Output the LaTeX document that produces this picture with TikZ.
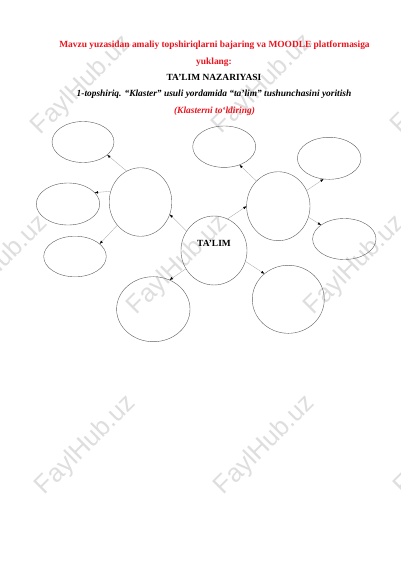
\documentclass[tikz,border=0pt]{standalone}
\usepackage{fontspec}
\setmainfont{Liberation Serif}
\newfontfamily\wmfont{Liberation Sans}
\usetikzlibrary{shapes.geometric,arrows.meta}
\definecolor{titlered}{RGB}{232,20,30}
\definecolor{wmgray}{RGB}{222,222,222}
\definecolor{ringgray}{RGB}{95,95,95}
\definecolor{linkgray}{RGB}{170,170,170}
\begin{document}
\begin{tikzpicture}[x=1.4875pt,y=-1.4875pt,
  bubble/.style={ellipse,draw=ringgray,line width=0.6pt,inner sep=0pt,outer sep=0pt},
  link/.style={draw=linkgray,line width=0.5pt,-{Latex[length=5pt,width=3.8pt,color=black,fill=black]}},
  headline/.style={font=\fontsize{14}{16}\selectfont\bfseries,inner sep=0pt,anchor=base},
  watermark/.style={font=\wmfont\fontsize{38}{40}\selectfont,text=wmgray,rotate=45,inner sep=0pt}]
\useasboundingbox (0,0) rectangle (400,566);
\fill[white] (0,0) rectangle (400,566);
% watermarks
\begin{scope}
\clip (0,0) rectangle (400,566);
\node[watermark] (wm1) at (82,85) {FaylHub.uz};
\node[watermark] (wm2) at (263,84) {FaylHub.uz};
\node[watermark] (wm3) at (442,84) {FaylHub.uz};
\node[watermark] (wm4) at (-2,265) {FaylHub.uz};
\node[watermark] (wm5) at (178,265) {FaylHub.uz};
\node[watermark] (wm6) at (355,265) {FaylHub.uz};
\node[watermark] (wm7) at (86,445) {FaylHub.uz};
\node[watermark] (wm8) at (265,445) {FaylHub.uz};
\node[watermark] (wm9) at (445,445) {FaylHub.uz};
\end{scope}
% heading
\node[headline,text=titlered] (h1) at (214.5,47.5) {Mavzu yuzasidan amaliy topshiriqlarni bajaring va MOODLE platformasiga};
\node[headline,text=titlered] (h2) at (214,64) {yuklang:};
\node[headline] (h3) at (214,80) {TA’LIM NAZARIYASI};
\node[headline,font=\fontsize{14}{16}\selectfont\bfseries\itshape] (h4) at (214,96.5) {1-topshiriq. “Klaster” usuli yordamida “ta’lim” tushunchasini yoritish};
\node[headline,font=\fontsize{14}{16}\selectfont\bfseries\itshape,text=titlered] (h5) at (214.5,113) {(Klasterni to‘ldiring)};
% bubbles
\node[bubble,minimum width=92.2pt,minimum height=61pt] (tl) at (83,142) {};
\node[bubble,minimum width=94.3pt,minimum height=62.5pt] (lm) at (68,204) {};
\node[bubble,minimum width=93.1pt,minimum height=60.4pt] (lb) at (75,256.5) {};
\node[bubble,minimum width=93.1pt,minimum height=102pt] (lbig) at (140.5,202) {};
\node[bubble,minimum width=98.2pt,minimum height=102.6pt] (ta) at (214,250.5) {};
\node[headline,anchor=center] (talabel) at (214,243) {TA’LIM};
\node[bubble,minimum width=109.2pt,minimum height=96.7pt] (bl) at (153.3,309.2) {};
\node[bubble,minimum width=107.1pt,minimum height=101.2pt] (br) at (288.3,299.3) {};
\node[bubble,minimum width=94.3pt,minimum height=102.6pt] (rm) at (278.3,206.2) {};
\node[bubble,minimum width=93.7pt,minimum height=61.6pt] (tc) at (224.2,146.7) {};
\node[bubble,minimum width=94.6pt,minimum height=62.5pt] (tr) at (329.2,158.3) {};
\node[bubble,minimum width=94.3pt,minimum height=61pt] (rl) at (344.3,239) {};
% connectors
\path[link] (ta.145) -- (lbig.337);
\path[link] (ta.213) -- (bl.61);
\path[link] (ta.67) -- (rm.180);
\path[link] (ta.341) -- (br.133);
\path[link] (lbig.114) -- (tl.332);
\path[link] (lbig.160) -- (lm.23);
\path[link] (lbig.225) -- (lb.27);
\path[link] (rm.131) -- (tc.310);
\path[link] (rm.29) -- (tr.255);
\path[link] (rm.340) -- (rl.149);
\end{tikzpicture}
\end{document}
